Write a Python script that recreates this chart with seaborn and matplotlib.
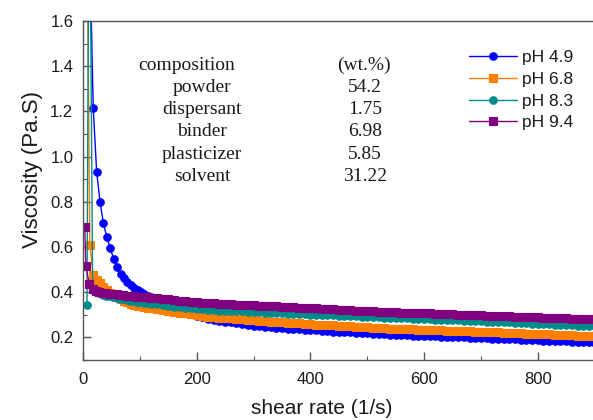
import matplotlib
matplotlib.use("Agg")
import matplotlib.pyplot as plt
from matplotlib.ticker import MultipleLocator, FormatStrFormatter
import pandas as pd
import seaborn as sns

# ---- measured viscosity curves -------------------------------------------
# low-shear start of every curve (shear rate in 1/s, viscosity in Pa.s)
blue_early_rate = [12, 18, 24, 30, 36, 42, 48, 54, 60, 66, 72, 78, 84, 90, 96, 102, 108, 114, 120]
blue_early_visc = [1.90, 1.215, 0.933, 0.800, 0.704, 0.643, 0.594, 0.547, 0.512, 0.481,
                   0.462, 0.446, 0.432, 0.419, 0.408, 0.400, 0.393, 0.385, 0.377]

orange_early_rate = [6, 12, 18, 24, 30, 36, 42, 48, 54, 60, 66, 72, 78, 84, 90, 96, 102, 108, 114, 120]
orange_early_visc = [2.40, 0.610, 0.475, 0.455, 0.440, 0.425, 0.410, 0.398, 0.388, 0.378,
                     0.370, 0.362, 0.355, 0.350, 0.345, 0.341, 0.337, 0.334, 0.331, 0.328]

teal_early_rate = [7, 11, 17, 23, 29, 35, 41, 47, 53, 59, 65, 71, 77, 83, 89, 95, 101, 107, 113, 119]
teal_early_visc = [0.345, 2.50, 0.410, 0.402, 0.395, 0.389, 0.385, 0.381, 0.377, 0.374,
                   0.371, 0.368, 0.365, 0.362, 0.360, 0.358, 0.356, 0.354, 0.352, 0.350]

purple_early_rate = [3, 5, 11, 17, 23, 29, 35, 41, 47, 53, 59, 65, 71, 77, 83, 89, 95, 101, 107, 113, 119]
purple_early_visc = [0.690, 0.515, 0.437, 0.412, 0.405, 0.401, 0.398, 0.396, 0.394, 0.392, 0.390,
                     0.388, 0.386, 0.384, 0.383, 0.382, 0.380, 0.379, 0.378, 0.377, 0.376]

# shared high-shear sweep
tail_rate = [130, 140, 150, 160, 170, 180, 190, 200, 210, 220,
             230, 240, 250, 260, 270, 280, 290, 300, 310, 320,
             330, 340, 350, 360, 370, 380, 390, 400, 410, 420,
             430, 440, 450, 460, 470, 480, 490, 500, 510, 520,
             530, 540, 550, 560, 570, 580, 590, 600, 610, 620,
             630, 640, 650, 660, 670, 680, 690, 700, 710, 720,
             730, 740, 750, 760, 770, 780, 790, 800, 810, 820,
             830, 840, 850, 860, 870, 880, 890, 900]

blue_tail_visc = [0.366, 0.353, 0.341, 0.330, 0.320, 0.311, 0.303, 0.296, 0.289, 0.283,
                  0.278, 0.274, 0.270, 0.266, 0.262, 0.258, 0.255, 0.252, 0.249, 0.247,
                  0.244, 0.242, 0.240, 0.238, 0.237, 0.235, 0.234, 0.232, 0.231, 0.229,
                  0.228, 0.226, 0.225, 0.223, 0.222, 0.221, 0.219, 0.218, 0.216, 0.215,
                  0.214, 0.212, 0.211, 0.210, 0.209, 0.208, 0.207, 0.206, 0.205, 0.204,
                  0.203, 0.202, 0.201, 0.201, 0.200, 0.199, 0.198, 0.197, 0.196, 0.195,
                  0.194, 0.193, 0.192, 0.191, 0.190, 0.189, 0.188, 0.187, 0.186, 0.185,
                  0.184, 0.183, 0.182, 0.181, 0.180, 0.179, 0.178, 0.177]

orange_tail_visc = [0.324, 0.320, 0.317, 0.314, 0.310, 0.306, 0.302, 0.298, 0.295, 0.292,
                    0.290, 0.288, 0.286, 0.284, 0.282, 0.280, 0.278, 0.276, 0.274, 0.272,
                    0.270, 0.268, 0.266, 0.265, 0.263, 0.262, 0.260, 0.259, 0.257, 0.256,
                    0.254, 0.253, 0.251, 0.250, 0.249, 0.247, 0.246, 0.245, 0.243, 0.242,
                    0.241, 0.239, 0.238, 0.237, 0.236, 0.235, 0.234, 0.234, 0.233, 0.232,
                    0.231, 0.230, 0.229, 0.228, 0.228, 0.227, 0.226, 0.225, 0.224, 0.223,
                    0.222, 0.221, 0.220, 0.219, 0.218, 0.217, 0.216, 0.215, 0.214, 0.213,
                    0.212, 0.211, 0.210, 0.209, 0.208, 0.207, 0.206, 0.205]

teal_tail_visc = [0.347, 0.343, 0.339, 0.336, 0.333, 0.330, 0.328, 0.326, 0.324, 0.322,
                  0.320, 0.319, 0.318, 0.317, 0.316, 0.315, 0.313, 0.312, 0.311, 0.310,
                  0.309, 0.308, 0.306, 0.305, 0.304, 0.303, 0.302, 0.301, 0.300, 0.299,
                  0.298, 0.297, 0.296, 0.295, 0.294, 0.293, 0.292, 0.291, 0.290, 0.289,
                  0.288, 0.287, 0.286, 0.285, 0.284, 0.283, 0.282, 0.281, 0.280, 0.279,
                  0.278, 0.277, 0.276, 0.275, 0.274, 0.273, 0.272, 0.271, 0.270, 0.269,
                  0.268, 0.267, 0.266, 0.265, 0.263, 0.262, 0.261, 0.260, 0.259, 0.258,
                  0.257, 0.256, 0.255, 0.254, 0.252, 0.251, 0.250, 0.249]

purple_tail_visc = [0.374, 0.371, 0.369, 0.366, 0.363, 0.361, 0.358, 0.356, 0.354, 0.353,
                    0.351, 0.350, 0.348, 0.347, 0.345, 0.344, 0.343, 0.342, 0.341, 0.340,
                    0.338, 0.337, 0.336, 0.335, 0.333, 0.332, 0.331, 0.329, 0.328, 0.327,
                    0.326, 0.324, 0.323, 0.322, 0.321, 0.319, 0.318, 0.317, 0.316, 0.314,
                    0.313, 0.312, 0.311, 0.310, 0.309, 0.308, 0.308, 0.307, 0.306, 0.305,
                    0.304, 0.303, 0.302, 0.301, 0.300, 0.299, 0.298, 0.297, 0.296, 0.295,
                    0.294, 0.294, 0.293, 0.292, 0.291, 0.290, 0.289, 0.289, 0.288, 0.287,
                    0.286, 0.285, 0.284, 0.283, 0.282, 0.282, 0.281, 0.280]

series_labels = ["pH 4.9", "pH 6.8", "pH 8.3", "pH 9.4"]
series_colors = ["#0000ff", "#ff7f00", "#008b8b", "#800080"]
series_markers = ["o", "s", "o", "s"]

# slurry composition table
comp_items = ["powder", "dispersant", "binder", "plasticizer", "solvent"]
comp_values = ["54.2", "1.75", "6.98", "5.85", "31.22"]

# ---- assemble long-form table --------------------------------------------
early_rates = [blue_early_rate, orange_early_rate, teal_early_rate, purple_early_rate]
early_viscs = [blue_early_visc, orange_early_visc, teal_early_visc, purple_early_visc]
tail_viscs = [blue_tail_visc, orange_tail_visc, teal_tail_visc, purple_tail_visc]

frames = []
for lab, er, ev, tv in zip(series_labels, early_rates, early_viscs, tail_viscs):
    frames.append(pd.DataFrame({"rate": er + tail_rate,
                                "visc": ev + tv,
                                "pH": lab}))
df = pd.concat(frames, ignore_index=True)

# ---- figure ----------------------------------------------------------------
sns.set_style("ticks")
plt.rcParams["font.family"] = ["Liberation Sans", "DejaVu Sans"]

W, H = 593, 420
fig = plt.figure(figsize=(W / 100, H / 100), dpi=100)
left, right, top, bottom = 83, 594.6, 21, 360
ax = fig.add_axes([left / W, 1 - bottom / H, (right - left) / W, (bottom - top) / H])

sns.lineplot(data=df, x="rate", y="visc", hue="pH", style="pH",
             hue_order=series_labels, style_order=series_labels,
             palette=dict(zip(series_labels, series_colors)),
             markers=dict(zip(series_labels, series_markers)),
             dashes=False, estimator=None, sort=False,
             linewidth=1.0, markersize=5.4, markeredgewidth=0.8,
             ax=ax, legend=True)

# solid markers: edge in the series colour instead of seaborn's white rim
for ln in ax.lines:
    ln.set_markeredgecolor(ln.get_color())

ax.set_xlim(0, 900)
ax.set_ylim(0.1, 1.6)
ax.xaxis.set_major_locator(MultipleLocator(200))
ax.xaxis.set_minor_locator(MultipleLocator(100))
ax.yaxis.set_minor_locator(MultipleLocator(0.1))
ax.set_yticks([0.2, 0.4, 0.6, 0.8, 1.0, 1.2, 1.4, 1.6])
ax.yaxis.set_major_formatter(FormatStrFormatter("%.1f"))

spine_col = "#555555"
for s in ax.spines.values():
    s.set_color(spine_col)
    s.set_linewidth(1.0)
    s.set_visible(True)

ax.tick_params(which="both", direction="in", colors=spine_col, labelcolor="#1a1a1a",
               top=False, right=False)
ax.tick_params(which="major", length=6, width=1.0, labelsize=12, pad=7)
ax.tick_params(which="minor", length=3, width=0.8)
ax.tick_params(axis="x", which="major", pad=9)

ax.set_xlabel("shear rate (1/s)", fontsize=15, color="#1a1a1a", va="top")
ax.set_ylabel("Viscosity (Pa.S)", fontsize=16, color="#1a1a1a")
ax.xaxis.set_label_coords((322 - left) / (right - left), -(399 - bottom) / (bottom - top))
ax.yaxis.set_label_coords(-(left - 43) / (right - left), (bottom - 170) / (bottom - top))
ax.grid(False)

# legend
handles, labels = ax.get_legend_handles_labels()
ax.get_legend().remove()
for h in handles:
    h.set_markeredgecolor(h.get_color())
leg = ax.legend(handles, labels, loc="upper left",
                bbox_to_anchor=(469 / W, 1 - 50 / H), bbox_transform=fig.transFigure,
                frameon=False, fontsize=12.5, handlelength=2.75, handletextpad=0.3,
                labelspacing=0.38, borderpad=0, borderaxespad=0, markerscale=1.0)
for t in leg.get_texts():
    t.set_color("#1a1a1a")

# composition table
serif = ["Liberation Serif", "DejaVu Serif"]
row_y = [65, 87.3, 109.6, 131.9, 154.2, 176.5]
fig.text(187 / W, 1 - row_y[0] / H, "composition", ha="center", va="center",
         fontsize=14, family=serif, color="#1a1a1a")
fig.text(364 / W, 1 - row_y[0] / H, "(wt.%)", ha="center", va="center",
         fontsize=14, family=serif, color="#1a1a1a")
for yy, item, val in zip(row_y[1:], comp_items, comp_values):
    fig.text(202 / W, 1 - yy / H, item, ha="center", va="center",
             fontsize=14, family=serif, color="#1a1a1a")
    fig.text(365 / W, 1 - yy / H, val, ha="center", va="center",
             fontsize=14, family=serif, color="#1a1a1a")

fig.savefig("out.png", dpi=100)
